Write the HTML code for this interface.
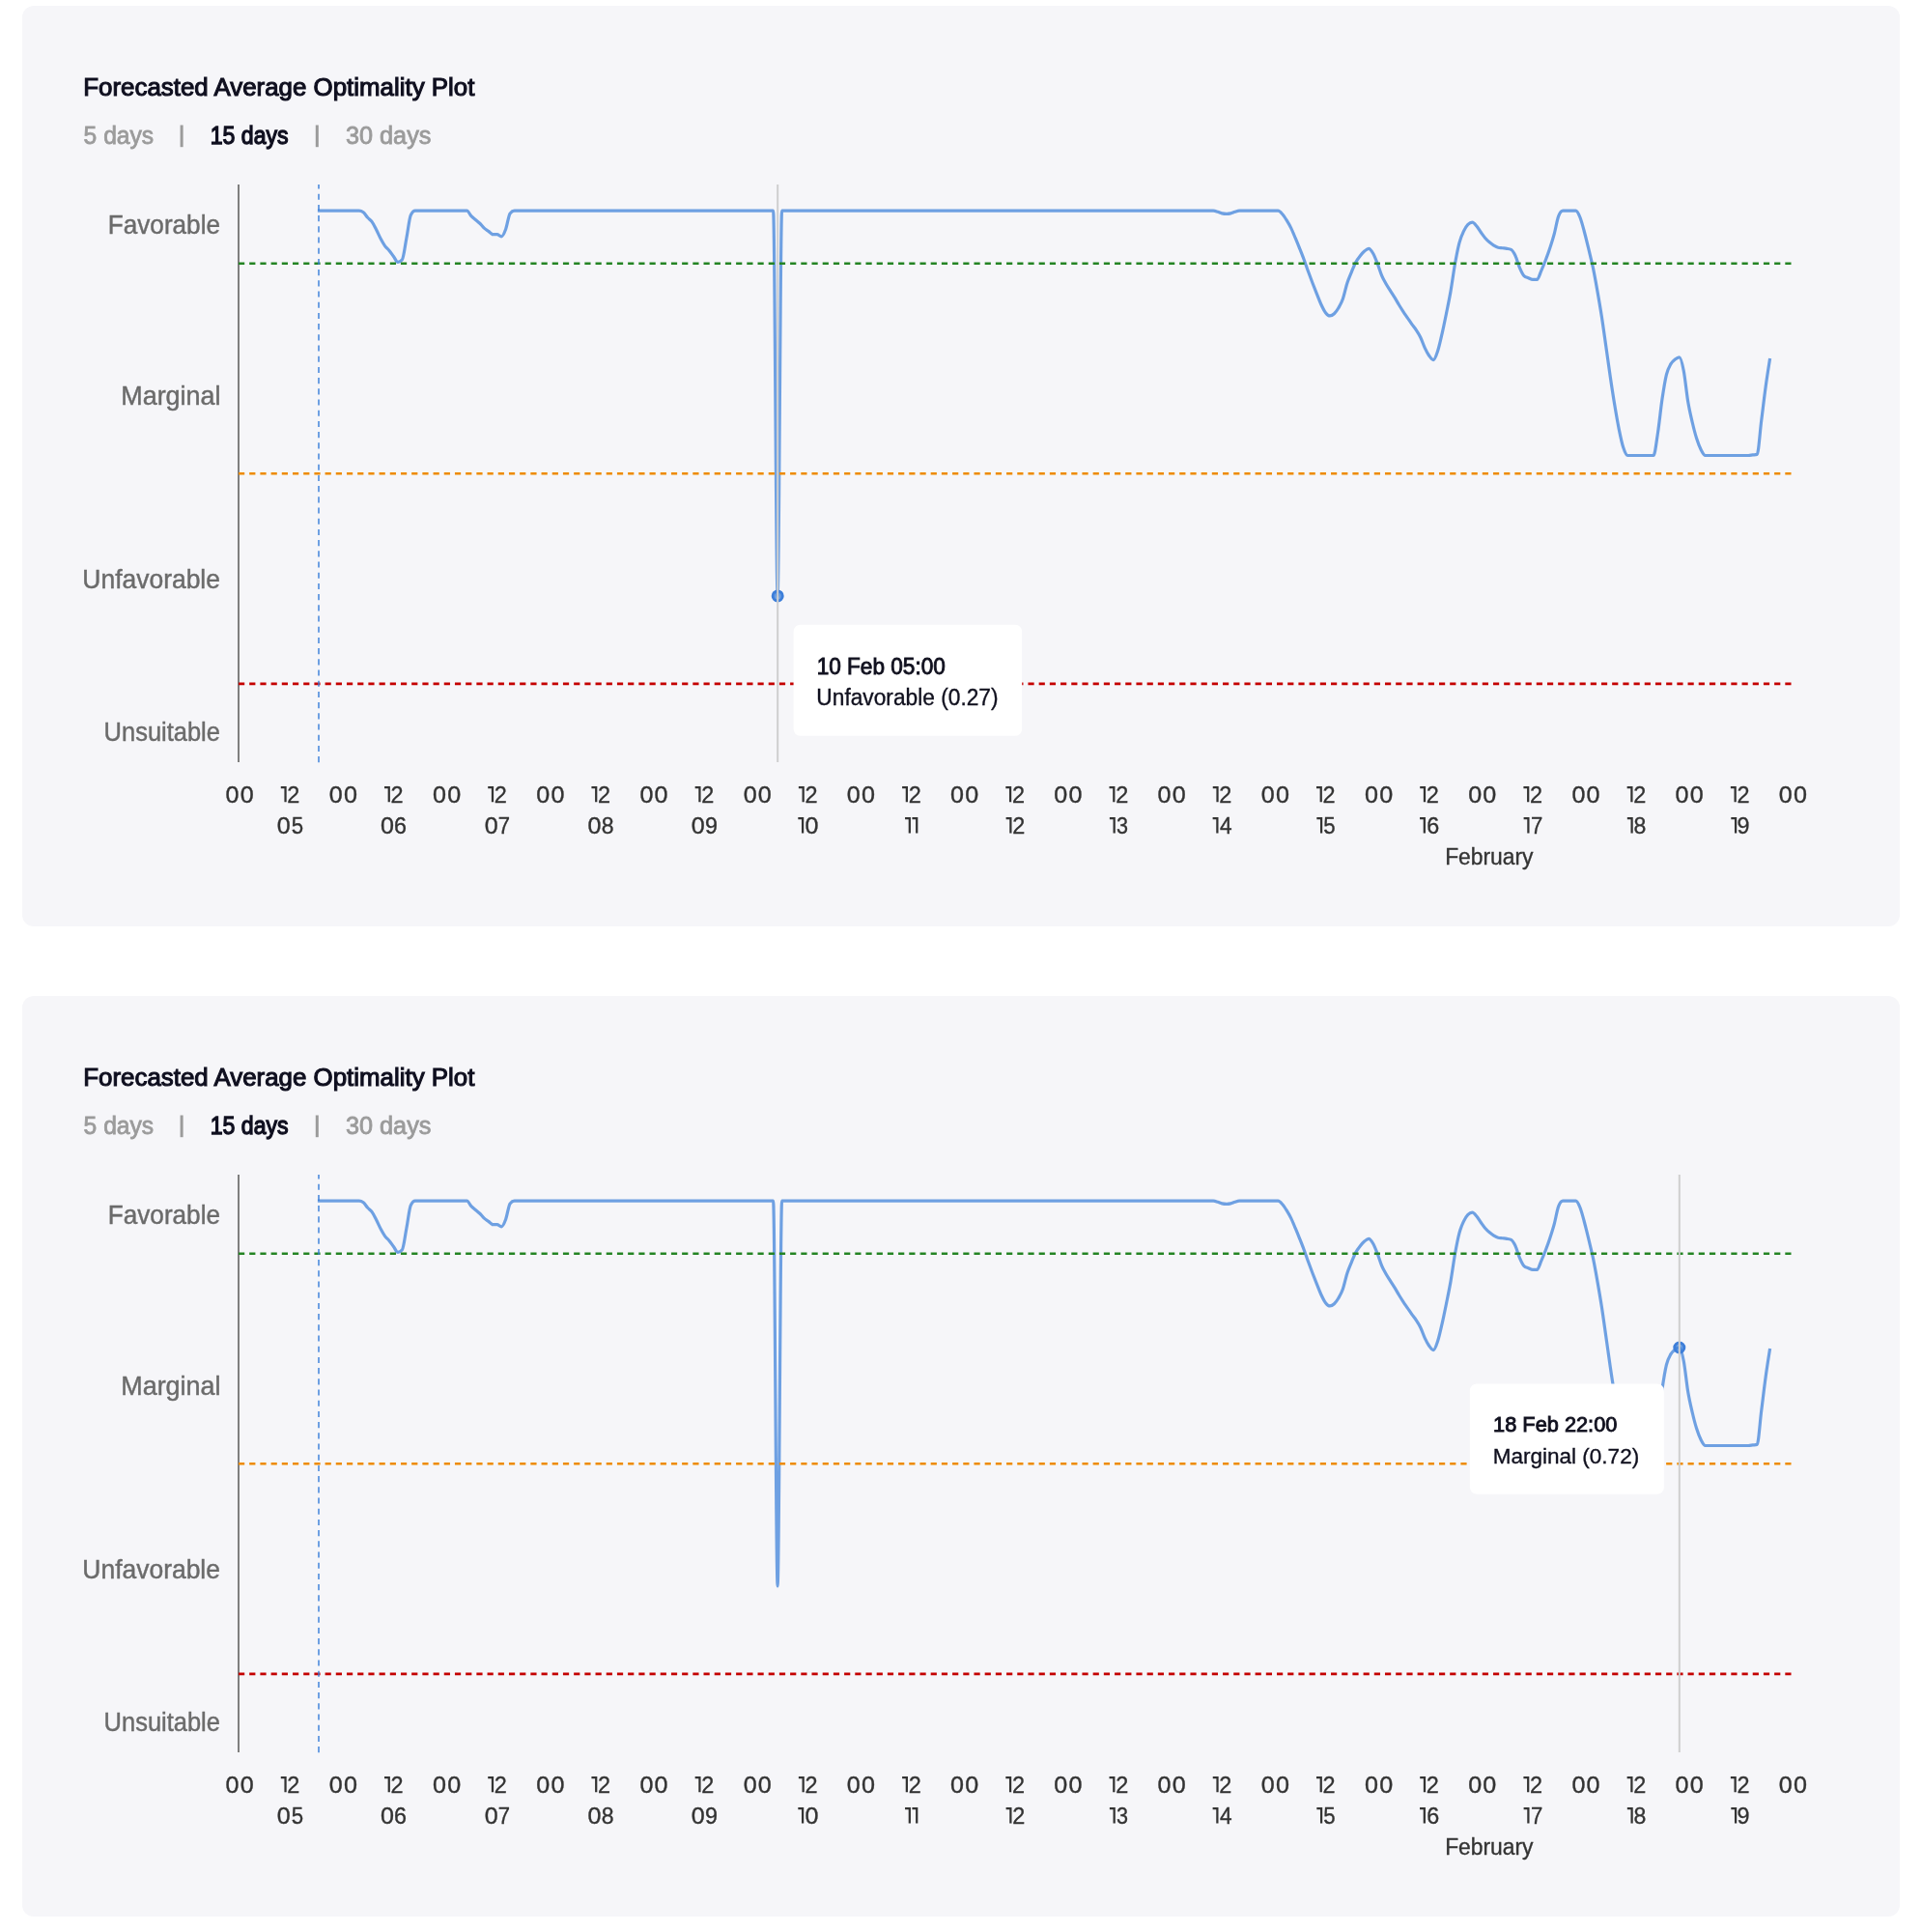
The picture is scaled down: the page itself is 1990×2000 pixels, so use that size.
<!DOCTYPE html>
<html><head><meta charset="utf-8"><style>
html,body{margin:0;padding:0;background:#ffffff;}
body{width:1990px;height:2000px;overflow:hidden;}
svg{display:block;font-family:"Liberation Sans",sans-serif;will-change:transform;}
</style></head><body>
<svg width="1990" height="2000" viewBox="0 0 1990 2000">
<g>
<rect x="23" y="6" width="1944" height="953" rx="12" ry="12" fill="#f6f6f9"/>
<text transform="translate(86.28,98.58) scale(0.9869,1)" font-size="26.23" fill="#0f0f1f" stroke="#0f0f1f" stroke-width="1.10">Forecasted Average Optimality Plot</text>
<text transform="translate(86.61,148.94) scale(0.9713,1)" font-size="25.36" fill="#9b9b9b" stroke="#9b9b9b" stroke-width="0.80">5 days</text>
<rect x="186.6" y="129.5" width="3" height="22.7" fill="#9b9b9b"/>
<text transform="translate(217.72,148.84) scale(0.9105,1)" font-size="25.36" fill="#0f0f1f" stroke="#0f0f1f" stroke-width="1.30">15 days</text>
<rect x="326.8" y="129.5" width="3" height="22.7" fill="#9b9b9b"/>
<text transform="translate(357.99,148.94) scale(0.9955,1)" font-size="25.36" fill="#9b9b9b" stroke="#9b9b9b" stroke-width="0.80">30 days</text>
<text transform="translate(111.84,241.71) scale(0.9639,1)" font-size="27.10" fill="#6b6b6b" stroke="#6b6b6b" stroke-width="0.45">Favorable</text>
<text transform="translate(125.27,418.71) scale(0.9935,1)" font-size="27.10" fill="#6b6b6b" stroke="#6b6b6b" stroke-width="0.45">Marginal</text>
<text transform="translate(85.34,608.61) scale(0.9764,1)" font-size="27.10" fill="#6b6b6b" stroke="#6b6b6b" stroke-width="0.45">Unfavorable</text>
<text transform="translate(107.62,766.91) scale(0.9395,1)" font-size="27.10" fill="#6b6b6b" stroke="#6b6b6b" stroke-width="0.45">Unsuitable</text>
<text transform="translate(233.53,830.73) scale(1.0715,1)" font-size="23.43" fill="#333333" stroke="#333333" stroke-width="0.35">0</text><text transform="translate(248.73,830.73) scale(1.0715,1)" font-size="23.43" fill="#333333" stroke="#333333" stroke-width="0.35">0</text>
<path d="M290.77,813.95 H296.67 V830.30 H294.42 V816.25 H290.77 Z" fill="#333333"/><text transform="translate(297.37,830.73) scale(0.9991,1)" font-size="23.43" fill="#333333" stroke="#333333" stroke-width="0.35">2</text>
<text transform="translate(286.64,863.03) scale(1.0737,1)" font-size="23.38" fill="#333333" stroke="#333333" stroke-width="0.35">0</text><text transform="translate(301.66,863.03) scale(0.9500,1)" font-size="23.38" fill="#333333" stroke="#333333" stroke-width="0.35">5</text>
<text transform="translate(340.75,830.73) scale(1.0715,1)" font-size="23.43" fill="#333333" stroke="#333333" stroke-width="0.35">0</text><text transform="translate(355.95,830.73) scale(1.0715,1)" font-size="23.43" fill="#333333" stroke="#333333" stroke-width="0.35">0</text>
<path d="M397.99,813.95 H403.89 V830.30 H401.64 V816.25 H397.99 Z" fill="#333333"/><text transform="translate(404.59,830.73) scale(0.9991,1)" font-size="23.43" fill="#333333" stroke="#333333" stroke-width="0.35">2</text>
<text transform="translate(394.11,863.03) scale(1.0737,1)" font-size="23.38" fill="#333333" stroke="#333333" stroke-width="0.35">0</text><text transform="translate(408.05,863.03) scale(0.9980,1)" font-size="23.38" fill="#333333" stroke="#333333" stroke-width="0.35">6</text>
<text transform="translate(447.97,830.73) scale(1.0715,1)" font-size="23.43" fill="#333333" stroke="#333333" stroke-width="0.35">0</text><text transform="translate(463.17,830.73) scale(1.0715,1)" font-size="23.43" fill="#333333" stroke="#333333" stroke-width="0.35">0</text>
<path d="M505.21,813.95 H511.11 V830.30 H508.86 V816.25 H505.21 Z" fill="#333333"/><text transform="translate(511.81,830.73) scale(0.9991,1)" font-size="23.43" fill="#333333" stroke="#333333" stroke-width="0.35">2</text>
<text transform="translate(501.78,863.03) scale(1.0737,1)" font-size="23.38" fill="#333333" stroke="#333333" stroke-width="0.35">0</text><text transform="translate(515.68,863.03) scale(0.9447,1)" font-size="23.38" fill="#333333" stroke="#333333" stroke-width="0.35">7</text>
<text transform="translate(555.19,830.73) scale(1.0715,1)" font-size="23.43" fill="#333333" stroke="#333333" stroke-width="0.35">0</text><text transform="translate(570.39,830.73) scale(1.0715,1)" font-size="23.43" fill="#333333" stroke="#333333" stroke-width="0.35">0</text>
<path d="M612.43,813.95 H618.33 V830.30 H616.08 V816.25 H612.43 Z" fill="#333333"/><text transform="translate(619.03,830.73) scale(0.9991,1)" font-size="23.43" fill="#333333" stroke="#333333" stroke-width="0.35">2</text>
<text transform="translate(608.45,863.03) scale(1.0737,1)" font-size="23.38" fill="#333333" stroke="#333333" stroke-width="0.35">0</text><text transform="translate(622.72,863.03) scale(0.9874,1)" font-size="23.38" fill="#333333" stroke="#333333" stroke-width="0.35">8</text>
<text transform="translate(662.41,830.73) scale(1.0715,1)" font-size="23.43" fill="#333333" stroke="#333333" stroke-width="0.35">0</text><text transform="translate(677.61,830.73) scale(1.0715,1)" font-size="23.43" fill="#333333" stroke="#333333" stroke-width="0.35">0</text>
<path d="M719.65,813.95 H725.55 V830.30 H723.30 V816.25 H719.65 Z" fill="#333333"/><text transform="translate(726.25,830.73) scale(0.9991,1)" font-size="23.43" fill="#333333" stroke="#333333" stroke-width="0.35">2</text>
<text transform="translate(715.67,863.03) scale(1.0737,1)" font-size="23.38" fill="#333333" stroke="#333333" stroke-width="0.35">0</text><text transform="translate(729.92,863.03) scale(0.9980,1)" font-size="23.38" fill="#333333" stroke="#333333" stroke-width="0.35">9</text>
<text transform="translate(769.63,830.73) scale(1.0715,1)" font-size="23.43" fill="#333333" stroke="#333333" stroke-width="0.35">0</text><text transform="translate(784.83,830.73) scale(1.0715,1)" font-size="23.43" fill="#333333" stroke="#333333" stroke-width="0.35">0</text>
<path d="M826.87,813.95 H832.77 V830.30 H830.52 V816.25 H826.87 Z" fill="#333333"/><text transform="translate(833.47,830.73) scale(0.9991,1)" font-size="23.43" fill="#333333" stroke="#333333" stroke-width="0.35">2</text>
<path d="M826.32,846.05 H832.22 V862.60 H829.97 V848.35 H826.32 Z" fill="#333333"/><text transform="translate(833.39,863.03) scale(1.0737,1)" font-size="23.38" fill="#333333" stroke="#333333" stroke-width="0.35">0</text>
<text transform="translate(876.85,830.73) scale(1.0715,1)" font-size="23.43" fill="#333333" stroke="#333333" stroke-width="0.35">0</text><text transform="translate(892.05,830.73) scale(1.0715,1)" font-size="23.43" fill="#333333" stroke="#333333" stroke-width="0.35">0</text>
<path d="M934.09,813.95 H939.99 V830.30 H937.74 V816.25 H934.09 Z" fill="#333333"/><text transform="translate(940.69,830.73) scale(0.9991,1)" font-size="23.43" fill="#333333" stroke="#333333" stroke-width="0.35">2</text>
<path d="M937.04,846.05 H942.94 V862.60 H940.69 V848.35 H937.04 Z" fill="#333333"/><path d="M944.44,846.05 H950.34 V862.60 H948.09 V848.35 H944.44 Z" fill="#333333"/>
<text transform="translate(984.07,830.73) scale(1.0715,1)" font-size="23.43" fill="#333333" stroke="#333333" stroke-width="0.35">0</text><text transform="translate(999.27,830.73) scale(1.0715,1)" font-size="23.43" fill="#333333" stroke="#333333" stroke-width="0.35">0</text>
<path d="M1041.31,813.95 H1047.21 V830.30 H1044.96 V816.25 H1041.31 Z" fill="#333333"/><text transform="translate(1047.91,830.73) scale(0.9991,1)" font-size="23.43" fill="#333333" stroke="#333333" stroke-width="0.35">2</text>
<path d="M1041.61,846.05 H1047.51 V862.60 H1045.26 V848.35 H1041.61 Z" fill="#333333"/><text transform="translate(1048.21,863.03) scale(1.0011,1)" font-size="23.38" fill="#333333" stroke="#333333" stroke-width="0.35">2</text>
<text transform="translate(1091.29,830.73) scale(1.0715,1)" font-size="23.43" fill="#333333" stroke="#333333" stroke-width="0.35">0</text><text transform="translate(1106.49,830.73) scale(1.0715,1)" font-size="23.43" fill="#333333" stroke="#333333" stroke-width="0.35">0</text>
<path d="M1148.53,813.95 H1154.43 V830.30 H1152.18 V816.25 H1148.53 Z" fill="#333333"/><text transform="translate(1155.13,830.73) scale(0.9991,1)" font-size="23.43" fill="#333333" stroke="#333333" stroke-width="0.35">2</text>
<path d="M1148.88,846.05 H1154.78 V862.60 H1152.53 V848.35 H1148.88 Z" fill="#333333"/><text transform="translate(1156.09,863.03) scale(0.9230,1)" font-size="23.38" fill="#333333" stroke="#333333" stroke-width="0.35">3</text>
<text transform="translate(1198.51,830.73) scale(1.0715,1)" font-size="23.43" fill="#333333" stroke="#333333" stroke-width="0.35">0</text><text transform="translate(1213.71,830.73) scale(1.0715,1)" font-size="23.43" fill="#333333" stroke="#333333" stroke-width="0.35">0</text>
<path d="M1255.75,813.95 H1261.65 V830.30 H1259.40 V816.25 H1255.75 Z" fill="#333333"/><text transform="translate(1262.35,830.73) scale(0.9991,1)" font-size="23.43" fill="#333333" stroke="#333333" stroke-width="0.35">2</text>
<path d="M1255.60,846.05 H1261.50 V862.60 H1259.25 V848.35 H1255.60 Z" fill="#333333"/><text transform="translate(1263.02,863.03) scale(0.9698,1)" font-size="23.38" fill="#333333" stroke="#333333" stroke-width="0.35">4</text>
<text transform="translate(1305.73,830.73) scale(1.0715,1)" font-size="23.43" fill="#333333" stroke="#333333" stroke-width="0.35">0</text><text transform="translate(1320.93,830.73) scale(1.0715,1)" font-size="23.43" fill="#333333" stroke="#333333" stroke-width="0.35">0</text>
<path d="M1362.97,813.95 H1368.87 V830.30 H1366.62 V816.25 H1362.97 Z" fill="#333333"/><text transform="translate(1369.57,830.73) scale(0.9991,1)" font-size="23.43" fill="#333333" stroke="#333333" stroke-width="0.35">2</text>
<path d="M1363.32,846.05 H1369.22 V862.60 H1366.97 V848.35 H1363.32 Z" fill="#333333"/><text transform="translate(1370.21,863.03) scale(0.9500,1)" font-size="23.38" fill="#333333" stroke="#333333" stroke-width="0.35">5</text>
<text transform="translate(1412.95,830.73) scale(1.0715,1)" font-size="23.43" fill="#333333" stroke="#333333" stroke-width="0.35">0</text><text transform="translate(1428.15,830.73) scale(1.0715,1)" font-size="23.43" fill="#333333" stroke="#333333" stroke-width="0.35">0</text>
<path d="M1470.19,813.95 H1476.09 V830.30 H1473.84 V816.25 H1470.19 Z" fill="#333333"/><text transform="translate(1476.79,830.73) scale(0.9991,1)" font-size="23.43" fill="#333333" stroke="#333333" stroke-width="0.35">2</text>
<path d="M1470.04,846.05 H1475.94 V862.60 H1473.69 V848.35 H1470.04 Z" fill="#333333"/><text transform="translate(1477.35,863.03) scale(0.9980,1)" font-size="23.38" fill="#333333" stroke="#333333" stroke-width="0.35">6</text>
<text transform="translate(1520.17,830.73) scale(1.0715,1)" font-size="23.43" fill="#333333" stroke="#333333" stroke-width="0.35">0</text><text transform="translate(1535.37,830.73) scale(1.0715,1)" font-size="23.43" fill="#333333" stroke="#333333" stroke-width="0.35">0</text>
<path d="M1577.41,813.95 H1583.31 V830.30 H1581.06 V816.25 H1577.41 Z" fill="#333333"/><text transform="translate(1584.01,830.73) scale(0.9991,1)" font-size="23.43" fill="#333333" stroke="#333333" stroke-width="0.35">2</text>
<path d="M1577.61,846.05 H1583.51 V862.60 H1581.26 V848.35 H1577.61 Z" fill="#333333"/><text transform="translate(1585.08,863.03) scale(0.9447,1)" font-size="23.38" fill="#333333" stroke="#333333" stroke-width="0.35">7</text>
<text transform="translate(1627.39,830.73) scale(1.0715,1)" font-size="23.43" fill="#333333" stroke="#333333" stroke-width="0.35">0</text><text transform="translate(1642.59,830.73) scale(1.0715,1)" font-size="23.43" fill="#333333" stroke="#333333" stroke-width="0.35">0</text>
<path d="M1684.63,813.95 H1690.53 V830.30 H1688.28 V816.25 H1684.63 Z" fill="#333333"/><text transform="translate(1691.23,830.73) scale(0.9991,1)" font-size="23.43" fill="#333333" stroke="#333333" stroke-width="0.35">2</text>
<path d="M1684.83,846.05 H1690.73 V862.60 H1688.48 V848.35 H1684.83 Z" fill="#333333"/><text transform="translate(1691.57,863.03) scale(0.9874,1)" font-size="23.38" fill="#333333" stroke="#333333" stroke-width="0.35">8</text>
<text transform="translate(1734.61,830.73) scale(1.0715,1)" font-size="23.43" fill="#333333" stroke="#333333" stroke-width="0.35">0</text><text transform="translate(1749.81,830.73) scale(1.0715,1)" font-size="23.43" fill="#333333" stroke="#333333" stroke-width="0.35">0</text>
<path d="M1791.85,813.95 H1797.75 V830.30 H1795.50 V816.25 H1791.85 Z" fill="#333333"/><text transform="translate(1798.45,830.73) scale(0.9991,1)" font-size="23.43" fill="#333333" stroke="#333333" stroke-width="0.35">2</text>
<path d="M1792.30,846.05 H1798.20 V862.60 H1795.95 V848.35 H1792.30 Z" fill="#333333"/><text transform="translate(1798.52,863.03) scale(0.9980,1)" font-size="23.38" fill="#333333" stroke="#333333" stroke-width="0.35">9</text>
<text transform="translate(1841.83,830.73) scale(1.0715,1)" font-size="23.43" fill="#333333" stroke="#333333" stroke-width="0.35">0</text><text transform="translate(1857.03,830.73) scale(1.0715,1)" font-size="23.43" fill="#333333" stroke="#333333" stroke-width="0.35">0</text>
<text transform="translate(1496.15,894.53) scale(0.9670,1)" font-size="23.62" fill="#333333" stroke="#333333" stroke-width="0.35">February</text>
<line x1="247" y1="191" x2="247" y2="789" stroke="#7f7f7f" stroke-width="2"/>
<path d="M328.90,218.18C329.78,218.18 330.66,218.18 331.54,218.18C333.03,218.18 334.52,218.18 336.01,218.18C337.50,218.18 338.99,218.18 340.48,218.18C341.97,218.18 343.46,218.18 344.94,218.18C346.43,218.18 347.92,218.18 349.41,218.18C350.90,218.18 352.39,218.18 353.88,218.18C355.37,218.18 356.86,218.18 358.35,218.18C359.84,218.18 361.33,218.18 362.81,218.18C364.30,218.18 365.79,218.18 367.28,218.18C368.77,218.18 370.26,218.18 371.75,218.18C373.24,218.18 374.73,218.72 376.22,219.81C377.71,220.90 379.20,223.62 380.69,225.25C382.17,226.88 383.66,227.51 385.15,229.60C386.64,231.68 388.13,234.85 389.62,237.75C391.11,240.65 392.60,244.18 394.09,246.99C395.58,249.80 397.07,252.52 398.56,254.60C400.04,256.69 401.53,257.68 403.02,259.49C404.51,261.31 406.00,263.48 407.49,265.47C408.98,267.47 410.47,271.45 411.96,271.45C413.45,271.45 414.94,270.55 416.43,268.73C417.91,266.92 419.40,254.15 420.89,246.45C422.38,238.75 423.87,225.43 425.36,222.53C426.85,219.63 428.34,218.18 429.83,218.18C431.32,218.18 432.81,218.18 434.30,218.18C435.78,218.18 437.27,218.18 438.76,218.18C440.25,218.18 441.74,218.18 443.23,218.18C444.72,218.18 446.21,218.18 447.70,218.18C449.19,218.18 450.68,218.18 452.17,218.18C453.65,218.18 455.14,218.18 456.63,218.18C458.12,218.18 459.61,218.18 461.10,218.18C462.59,218.18 464.08,218.18 465.57,218.18C467.06,218.18 468.55,218.18 470.03,218.18C471.52,218.18 473.01,218.18 474.50,218.18C475.99,218.18 477.48,218.18 478.97,218.18C480.46,218.18 481.95,218.18 483.44,218.18C484.93,218.18 486.42,222.08 487.90,223.62C489.39,225.16 490.88,226.15 492.37,227.42C493.86,228.69 495.35,229.78 496.84,231.23C498.33,232.68 499.82,234.76 501.31,236.12C502.80,237.48 504.29,238.29 505.77,239.38C507.26,240.47 508.75,242.64 510.24,242.64C511.73,242.64 513.22,242.64 514.71,242.64C516.20,242.64 517.69,244.82 519.18,244.82C520.67,244.82 522.16,241.19 523.64,237.21C525.13,233.22 526.62,222.71 528.11,220.90C529.60,219.09 531.09,218.18 532.58,218.18C534.07,218.18 535.56,218.18 537.05,218.18C538.54,218.18 540.03,218.18 541.51,218.18C543.00,218.18 544.49,218.18 545.98,218.18C547.47,218.18 548.96,218.18 550.45,218.18C551.94,218.18 553.43,218.18 554.92,218.18C556.41,218.18 557.90,218.18 559.38,218.18C560.87,218.18 562.36,218.18 563.85,218.18C565.34,218.18 566.83,218.18 568.32,218.18C569.81,218.18 571.30,218.18 572.79,218.18C574.28,218.18 575.77,218.18 577.25,218.18C578.74,218.18 580.23,218.18 581.72,218.18C583.21,218.18 584.70,218.18 586.19,218.18C587.68,218.18 589.17,218.18 590.66,218.18C592.15,218.18 593.64,218.18 595.12,218.18C596.61,218.18 598.10,218.18 599.59,218.18C601.08,218.18 602.57,218.18 604.06,218.18C605.55,218.18 607.04,218.18 608.53,218.18C610.02,218.18 611.51,218.18 613.00,218.18C614.48,218.18 615.97,218.18 617.46,218.18C618.95,218.18 620.44,218.18 621.93,218.18C623.42,218.18 624.91,218.18 626.40,218.18C627.89,218.18 629.38,218.18 630.87,218.18C632.35,218.18 633.84,218.18 635.33,218.18C636.82,218.18 638.31,218.18 639.80,218.18C641.29,218.18 642.78,218.18 644.27,218.18C645.76,218.18 647.25,218.18 648.74,218.18C650.22,218.18 651.71,218.18 653.20,218.18C654.69,218.18 656.18,218.18 657.67,218.18C659.16,218.18 660.65,218.18 662.14,218.18C663.63,218.18 665.12,218.18 666.61,218.18C668.09,218.18 669.58,218.18 671.07,218.18C672.56,218.18 674.05,218.18 675.54,218.18C677.03,218.18 678.52,218.18 680.01,218.18C681.50,218.18 682.99,218.18 684.48,218.18C685.96,218.18 687.45,218.18 688.94,218.18C690.43,218.18 691.92,218.18 693.41,218.18C694.90,218.18 696.39,218.18 697.88,218.18C699.37,218.18 700.86,218.18 702.35,218.18C703.83,218.18 705.32,218.18 706.81,218.18C708.30,218.18 709.79,218.18 711.28,218.18C712.77,218.18 714.26,218.18 715.75,218.18C717.24,218.18 718.73,218.18 720.22,218.18C721.70,218.18 723.19,218.18 724.68,218.18C726.17,218.18 727.66,218.18 729.15,218.18C730.64,218.18 732.13,218.18 733.62,218.18C735.11,218.18 736.60,218.18 738.09,218.18C739.57,218.18 741.06,218.18 742.55,218.18C744.04,218.18 745.53,218.18 747.02,218.18C748.51,218.18 750.00,218.18 751.49,218.18C752.98,218.18 754.47,218.18 755.96,218.18C757.44,218.18 758.93,218.18 760.42,218.18C761.91,218.18 763.40,218.18 764.89,218.18C766.38,218.18 767.87,218.18 769.36,218.18C770.85,218.18 772.34,218.18 773.83,218.18C775.31,218.18 776.80,218.18 778.29,218.18C779.78,218.18 781.27,218.18 782.76,218.18C784.25,218.18 785.74,218.18 787.23,218.18C788.72,218.18 790.21,218.18 791.70,218.18C793.18,218.18 794.67,218.18 796.16,218.18C797.65,218.18 799.14,218.18 800.63,218.18C802.12,218.18 803.61,616.91 805.10,616.91C806.59,616.91 808.08,218.18 809.57,218.18C811.05,218.18 812.54,218.18 814.03,218.18C815.52,218.18 817.01,218.18 818.50,218.18C819.99,218.18 821.48,218.18 822.97,218.18C824.46,218.18 825.95,218.18 827.43,218.18C828.92,218.18 830.41,218.18 831.90,218.18C833.39,218.18 834.88,218.18 836.37,218.18C837.86,218.18 839.35,218.18 840.84,218.18C842.33,218.18 843.82,218.18 845.30,218.18C846.79,218.18 848.28,218.18 849.77,218.18C851.26,218.18 852.75,218.18 854.24,218.18C855.73,218.18 857.22,218.18 858.71,218.18C860.20,218.18 861.69,218.18 863.17,218.18C864.66,218.18 866.15,218.18 867.64,218.18C869.13,218.18 870.62,218.18 872.11,218.18C873.60,218.18 875.09,218.18 876.58,218.18C878.07,218.18 879.56,218.18 881.04,218.18C882.53,218.18 884.02,218.18 885.51,218.18C887.00,218.18 888.49,218.18 889.98,218.18C891.47,218.18 892.96,218.18 894.45,218.18C895.94,218.18 897.43,218.18 898.91,218.18C900.40,218.18 901.89,218.18 903.38,218.18C904.87,218.18 906.36,218.18 907.85,218.18C909.34,218.18 910.83,218.18 912.32,218.18C913.81,218.18 915.30,218.18 916.78,218.18C918.27,218.18 919.76,218.18 921.25,218.18C922.74,218.18 924.23,218.18 925.72,218.18C927.21,218.18 928.70,218.18 930.19,218.18C931.68,218.18 933.17,218.18 934.65,218.18C936.14,218.18 937.63,218.18 939.12,218.18C940.61,218.18 942.10,218.18 943.59,218.18C945.08,218.18 946.57,218.18 948.06,218.18C949.55,218.18 951.04,218.18 952.52,218.18C954.01,218.18 955.50,218.18 956.99,218.18C958.48,218.18 959.97,218.18 961.46,218.18C962.95,218.18 964.44,218.18 965.93,218.18C967.42,218.18 968.91,218.18 970.39,218.18C971.88,218.18 973.37,218.18 974.86,218.18C976.35,218.18 977.84,218.18 979.33,218.18C980.82,218.18 982.31,218.18 983.80,218.18C985.29,218.18 986.78,218.18 988.26,218.18C989.75,218.18 991.24,218.18 992.73,218.18C994.22,218.18 995.71,218.18 997.20,218.18C998.69,218.18 1000.18,218.18 1001.67,218.18C1003.16,218.18 1004.65,218.18 1006.13,218.18C1007.62,218.18 1009.11,218.18 1010.60,218.18C1012.09,218.18 1013.58,218.18 1015.07,218.18C1016.56,218.18 1018.05,218.18 1019.54,218.18C1021.03,218.18 1022.52,218.18 1024.01,218.18C1025.49,218.18 1026.98,218.18 1028.47,218.18C1029.96,218.18 1031.45,218.18 1032.94,218.18C1034.43,218.18 1035.92,218.18 1037.41,218.18C1038.90,218.18 1040.39,218.18 1041.88,218.18C1043.36,218.18 1044.85,218.18 1046.34,218.18C1047.83,218.18 1049.32,218.18 1050.81,218.18C1052.30,218.18 1053.79,218.18 1055.28,218.18C1056.77,218.18 1058.26,218.18 1059.75,218.18C1061.23,218.18 1062.72,218.18 1064.21,218.18C1065.70,218.18 1067.19,218.18 1068.68,218.18C1070.17,218.18 1071.66,218.18 1073.15,218.18C1074.64,218.18 1076.13,218.18 1077.62,218.18C1079.10,218.18 1080.59,218.18 1082.08,218.18C1083.57,218.18 1085.06,218.18 1086.55,218.18C1088.04,218.18 1089.53,218.18 1091.02,218.18C1092.51,218.18 1094.00,218.18 1095.49,218.18C1096.97,218.18 1098.46,218.18 1099.95,218.18C1101.44,218.18 1102.93,218.18 1104.42,218.18C1105.91,218.18 1107.40,218.18 1108.89,218.18C1110.38,218.18 1111.87,218.18 1113.36,218.18C1114.84,218.18 1116.33,218.18 1117.82,218.18C1119.31,218.18 1120.80,218.18 1122.29,218.18C1123.78,218.18 1125.27,218.18 1126.76,218.18C1128.25,218.18 1129.74,218.18 1131.23,218.18C1132.71,218.18 1134.20,218.18 1135.69,218.18C1137.18,218.18 1138.67,218.18 1140.16,218.18C1141.65,218.18 1143.14,218.18 1144.63,218.18C1146.12,218.18 1147.61,218.18 1149.10,218.18C1150.58,218.18 1152.07,218.18 1153.56,218.18C1155.05,218.18 1156.54,218.18 1158.03,218.18C1159.52,218.18 1161.01,218.18 1162.50,218.18C1163.99,218.18 1165.48,218.18 1166.97,218.18C1168.45,218.18 1169.94,218.18 1171.43,218.18C1172.92,218.18 1174.41,218.18 1175.90,218.18C1177.39,218.18 1178.88,218.18 1180.37,218.18C1181.86,218.18 1183.35,218.18 1184.84,218.18C1186.32,218.18 1187.81,218.18 1189.30,218.18C1190.79,218.18 1192.28,218.18 1193.77,218.18C1195.26,218.18 1196.75,218.18 1198.24,218.18C1199.73,218.18 1201.22,218.18 1202.71,218.18C1204.19,218.18 1205.68,218.18 1207.17,218.18C1208.66,218.18 1210.15,218.18 1211.64,218.18C1213.13,218.18 1214.62,218.18 1216.11,218.18C1217.60,218.18 1219.09,218.18 1220.58,218.18C1222.06,218.18 1223.55,218.18 1225.04,218.18C1226.53,218.18 1228.02,218.18 1229.51,218.18C1231.00,218.18 1232.49,218.18 1233.98,218.18C1235.47,218.18 1236.96,218.18 1238.45,218.18C1239.93,218.18 1241.42,218.18 1242.91,218.18C1244.40,218.18 1245.89,218.18 1247.38,218.18C1248.87,218.18 1250.36,218.18 1251.85,218.18C1253.34,218.18 1254.83,218.18 1256.32,218.18C1257.80,218.18 1259.29,218.81 1260.78,219.27C1262.27,219.72 1263.76,220.54 1265.25,220.90C1266.74,221.26 1268.23,221.44 1269.72,221.44C1271.21,221.44 1272.70,221.26 1274.19,220.90C1275.67,220.54 1277.16,219.72 1278.65,219.27C1280.14,218.81 1281.63,218.18 1283.12,218.18C1284.61,218.18 1286.10,218.18 1287.59,218.18C1289.08,218.18 1290.57,218.18 1292.06,218.18C1293.54,218.18 1295.03,218.18 1296.52,218.18C1298.01,218.18 1299.50,218.18 1300.99,218.18C1302.48,218.18 1303.97,218.18 1305.46,218.18C1306.95,218.18 1308.44,218.18 1309.93,218.18C1311.41,218.18 1312.90,218.18 1314.39,218.18C1315.88,218.18 1317.37,218.18 1318.86,218.18C1320.35,218.18 1321.84,218.18 1323.33,218.18C1324.82,218.18 1326.31,220.05 1327.80,221.71C1329.28,223.38 1330.77,225.78 1332.26,228.18C1333.75,230.58 1335.24,233.07 1336.73,236.12C1338.22,239.16 1339.71,242.91 1341.20,246.45C1342.69,249.98 1344.18,253.60 1345.67,257.32C1347.15,261.03 1348.64,264.75 1350.13,268.73C1351.62,272.72 1353.11,277.16 1354.60,281.24C1356.09,285.31 1357.58,289.30 1359.07,293.20C1360.56,297.09 1362.05,300.90 1363.54,304.61C1365.02,308.33 1366.51,312.31 1368.00,315.48C1369.49,318.66 1370.98,321.74 1372.47,323.64C1373.96,325.54 1375.45,326.90 1376.94,326.90C1378.43,326.90 1379.92,326.08 1381.41,324.73C1382.89,323.37 1384.38,321.28 1385.87,318.75C1387.36,316.21 1388.85,313.76 1390.34,309.50C1391.83,305.25 1393.32,297.82 1394.81,293.20C1396.30,288.58 1397.79,285.41 1399.28,281.78C1400.76,278.16 1402.25,274.26 1403.74,271.45C1405.23,268.64 1406.72,266.83 1408.21,264.93C1409.70,263.03 1411.19,261.31 1412.68,260.04C1414.17,258.77 1415.66,257.32 1417.15,257.32C1418.63,257.32 1420.12,259.67 1421.61,262.21C1423.10,264.75 1424.59,268.73 1426.08,272.54C1427.57,276.35 1429.06,281.51 1430.55,285.04C1432.04,288.58 1433.53,291.11 1435.02,293.74C1436.50,296.37 1437.99,298.45 1439.48,300.81C1440.97,303.16 1442.46,305.43 1443.95,307.87C1445.44,310.32 1446.93,313.04 1448.42,315.48C1449.91,317.93 1451.40,320.29 1452.89,322.55C1454.37,324.82 1455.86,326.90 1457.35,329.07C1458.84,331.25 1460.33,333.51 1461.82,335.60C1463.31,337.68 1464.80,339.31 1466.29,341.58C1467.78,343.84 1469.27,346.11 1470.76,349.19C1472.24,352.27 1473.73,356.89 1475.22,360.06C1476.71,363.23 1478.20,366.13 1479.69,368.21C1481.18,370.30 1482.67,372.56 1484.16,372.56C1485.65,372.56 1487.14,367.85 1488.63,363.32C1490.11,358.79 1491.60,351.91 1493.09,345.38C1494.58,338.86 1496.07,331.52 1497.56,324.18C1499.05,316.84 1500.54,309.87 1502.03,301.35C1503.52,292.83 1505.01,281.42 1506.50,273.08C1507.98,264.75 1509.47,256.96 1510.96,251.34C1512.45,245.72 1513.94,242.55 1515.43,239.38C1516.92,236.21 1518.41,233.76 1519.90,232.31C1521.39,230.86 1522.88,230.14 1524.37,230.14C1525.85,230.14 1527.34,232.22 1528.83,233.94C1530.32,235.67 1531.81,238.38 1533.30,240.47C1534.79,242.55 1536.28,244.73 1537.77,246.45C1539.26,248.17 1540.75,249.53 1542.24,250.80C1543.72,252.06 1545.21,253.15 1546.70,254.06C1548.19,254.96 1549.68,255.87 1551.17,256.23C1552.66,256.59 1554.15,256.59 1555.64,256.78C1557.13,256.96 1558.62,257.05 1560.11,257.32C1561.59,257.59 1563.08,257.68 1564.57,258.41C1566.06,259.13 1567.55,261.76 1569.04,264.93C1570.53,268.10 1572.02,273.99 1573.51,277.43C1575.00,280.88 1576.49,284.14 1577.98,285.59C1579.46,287.04 1580.95,287.13 1582.44,287.76C1583.93,288.40 1585.42,289.39 1586.91,289.39C1588.40,289.39 1589.89,289.39 1591.38,289.39C1592.87,289.39 1594.36,283.50 1595.85,280.15C1597.33,276.80 1598.82,273.17 1600.31,269.28C1601.80,265.38 1603.29,261.31 1604.78,256.78C1606.27,252.25 1607.76,247.63 1609.25,242.10C1610.74,236.57 1612.23,227.24 1613.72,223.62C1615.20,219.99 1616.69,218.18 1618.18,218.18C1619.67,218.18 1621.16,218.18 1622.65,218.18C1624.14,218.18 1625.63,218.18 1627.12,218.18C1628.61,218.18 1630.10,218.18 1631.59,218.18C1633.07,218.18 1634.56,221.53 1636.05,225.25C1637.54,228.96 1639.03,234.94 1640.52,240.47C1642.01,245.99 1643.50,252.25 1644.99,258.41C1646.48,264.57 1647.97,270.28 1649.46,277.43C1650.94,284.59 1652.43,292.93 1653.92,301.35C1655.41,309.78 1656.90,318.38 1658.39,327.99C1659.88,337.59 1661.37,348.55 1662.86,358.97C1664.35,369.39 1665.84,380.44 1667.33,390.50C1668.81,400.56 1670.30,410.34 1671.79,419.31C1673.28,428.28 1674.77,436.98 1676.26,444.32C1677.75,451.66 1679.24,458.81 1680.73,463.34C1682.22,467.87 1683.71,471.50 1685.20,471.50C1686.68,471.50 1688.17,471.50 1689.66,471.50C1691.15,471.50 1692.64,471.50 1694.13,471.50C1695.62,471.50 1697.11,471.50 1698.60,471.50C1700.09,471.50 1701.58,471.50 1703.07,471.50C1704.55,471.50 1706.04,471.50 1707.53,471.50C1709.02,471.50 1710.51,471.50 1712.00,471.50C1713.49,471.50 1714.98,457.82 1716.47,448.12C1717.96,438.43 1719.45,423.39 1720.94,413.33C1722.42,403.28 1723.91,393.85 1725.40,387.78C1726.89,381.71 1728.38,379.54 1729.87,376.91C1731.36,374.28 1732.85,373.20 1734.34,372.02C1735.83,370.84 1737.32,369.84 1738.81,369.84C1740.29,369.84 1741.78,376.28 1743.27,383.98C1744.76,391.68 1746.25,407.17 1747.74,416.05C1749.23,424.93 1750.72,430.91 1752.21,437.25C1753.70,443.59 1755.19,449.39 1756.68,454.10C1758.16,458.81 1759.65,462.62 1761.14,465.52C1762.63,468.42 1764.12,471.50 1765.61,471.50C1767.10,471.50 1768.59,471.50 1770.08,471.50C1771.57,471.50 1773.06,471.50 1774.55,471.50C1776.03,471.50 1777.52,471.50 1779.01,471.50C1780.50,471.50 1781.99,471.50 1783.48,471.50C1784.97,471.50 1786.46,471.50 1787.95,471.50C1789.44,471.50 1790.93,471.50 1792.42,471.50C1793.90,471.50 1795.39,471.50 1796.88,471.50C1798.37,471.50 1799.86,471.50 1801.35,471.50C1802.84,471.50 1804.33,471.50 1805.82,471.50C1807.31,471.50 1808.80,471.50 1810.29,471.50C1811.77,471.50 1813.26,471.14 1814.75,470.95C1816.24,470.77 1817.73,470.77 1819.22,470.41C1820.71,470.05 1822.20,447.31 1823.69,435.62C1825.18,423.93 1826.67,411.07 1828.16,400.29C1829.64,389.50 1831.13,380.22 1832.62,370.93" fill="none" stroke="rgba(52,124,216,0.7)" stroke-width="3.2" stroke-linejoin="round"/>
<line x1="247" y1="272.75" x2="1855" y2="272.75" stroke="#248424" stroke-width="2.6" stroke-dasharray="6.2 4.998"/>
<line x1="247" y1="490.20" x2="1855" y2="490.20" stroke="#ee8b00" stroke-width="2.6" stroke-dasharray="6.2 4.998"/>
<line x1="247" y1="707.90" x2="1855" y2="707.90" stroke="#c40000" stroke-width="2.6" stroke-dasharray="6.2 4.998"/>
<line x1="330" y1="789.2" x2="330" y2="191" stroke="rgba(52,124,216,0.7)" stroke-width="2" stroke-dasharray="6.1 5.1"/>
<circle cx="805.2" cy="616.9" r="5" fill="rgba(52,124,216,0.7)" stroke="#3d7ed9" stroke-width="3"/>
<line x1="805.2" y1="191" x2="805.2" y2="789" stroke="#cfcfcf" stroke-width="2"/>
<rect x="821.6" y="646.8" width="236.6" height="115.0" rx="7" ry="7" fill="#ffffff"/>
<text transform="translate(845.66,697.72) scale(0.9564,1)" font-size="23.62" fill="#10101e" stroke="#10101e" stroke-width="0.90">10 Feb 05:00</text>
<text transform="translate(845.37,729.63) scale(0.9803,1)" font-size="23.19" fill="#10101e" stroke="#10101e" stroke-width="0.35">Unfavorable (0.27)</text>
</g>
<g transform="translate(0,1025)">
<rect x="23" y="6" width="1944" height="953" rx="12" ry="12" fill="#f6f6f9"/>
<text transform="translate(86.28,98.58) scale(0.9869,1)" font-size="26.23" fill="#0f0f1f" stroke="#0f0f1f" stroke-width="1.10">Forecasted Average Optimality Plot</text>
<text transform="translate(86.61,148.94) scale(0.9713,1)" font-size="25.36" fill="#9b9b9b" stroke="#9b9b9b" stroke-width="0.80">5 days</text>
<rect x="186.6" y="129.5" width="3" height="22.7" fill="#9b9b9b"/>
<text transform="translate(217.72,148.84) scale(0.9105,1)" font-size="25.36" fill="#0f0f1f" stroke="#0f0f1f" stroke-width="1.30">15 days</text>
<rect x="326.8" y="129.5" width="3" height="22.7" fill="#9b9b9b"/>
<text transform="translate(357.99,148.94) scale(0.9955,1)" font-size="25.36" fill="#9b9b9b" stroke="#9b9b9b" stroke-width="0.80">30 days</text>
<text transform="translate(111.84,241.71) scale(0.9639,1)" font-size="27.10" fill="#6b6b6b" stroke="#6b6b6b" stroke-width="0.45">Favorable</text>
<text transform="translate(125.27,418.71) scale(0.9935,1)" font-size="27.10" fill="#6b6b6b" stroke="#6b6b6b" stroke-width="0.45">Marginal</text>
<text transform="translate(85.34,608.61) scale(0.9764,1)" font-size="27.10" fill="#6b6b6b" stroke="#6b6b6b" stroke-width="0.45">Unfavorable</text>
<text transform="translate(107.62,766.91) scale(0.9395,1)" font-size="27.10" fill="#6b6b6b" stroke="#6b6b6b" stroke-width="0.45">Unsuitable</text>
<text transform="translate(233.53,830.73) scale(1.0715,1)" font-size="23.43" fill="#333333" stroke="#333333" stroke-width="0.35">0</text><text transform="translate(248.73,830.73) scale(1.0715,1)" font-size="23.43" fill="#333333" stroke="#333333" stroke-width="0.35">0</text>
<path d="M290.77,813.95 H296.67 V830.30 H294.42 V816.25 H290.77 Z" fill="#333333"/><text transform="translate(297.37,830.73) scale(0.9991,1)" font-size="23.43" fill="#333333" stroke="#333333" stroke-width="0.35">2</text>
<text transform="translate(286.64,863.03) scale(1.0737,1)" font-size="23.38" fill="#333333" stroke="#333333" stroke-width="0.35">0</text><text transform="translate(301.66,863.03) scale(0.9500,1)" font-size="23.38" fill="#333333" stroke="#333333" stroke-width="0.35">5</text>
<text transform="translate(340.75,830.73) scale(1.0715,1)" font-size="23.43" fill="#333333" stroke="#333333" stroke-width="0.35">0</text><text transform="translate(355.95,830.73) scale(1.0715,1)" font-size="23.43" fill="#333333" stroke="#333333" stroke-width="0.35">0</text>
<path d="M397.99,813.95 H403.89 V830.30 H401.64 V816.25 H397.99 Z" fill="#333333"/><text transform="translate(404.59,830.73) scale(0.9991,1)" font-size="23.43" fill="#333333" stroke="#333333" stroke-width="0.35">2</text>
<text transform="translate(394.11,863.03) scale(1.0737,1)" font-size="23.38" fill="#333333" stroke="#333333" stroke-width="0.35">0</text><text transform="translate(408.05,863.03) scale(0.9980,1)" font-size="23.38" fill="#333333" stroke="#333333" stroke-width="0.35">6</text>
<text transform="translate(447.97,830.73) scale(1.0715,1)" font-size="23.43" fill="#333333" stroke="#333333" stroke-width="0.35">0</text><text transform="translate(463.17,830.73) scale(1.0715,1)" font-size="23.43" fill="#333333" stroke="#333333" stroke-width="0.35">0</text>
<path d="M505.21,813.95 H511.11 V830.30 H508.86 V816.25 H505.21 Z" fill="#333333"/><text transform="translate(511.81,830.73) scale(0.9991,1)" font-size="23.43" fill="#333333" stroke="#333333" stroke-width="0.35">2</text>
<text transform="translate(501.78,863.03) scale(1.0737,1)" font-size="23.38" fill="#333333" stroke="#333333" stroke-width="0.35">0</text><text transform="translate(515.68,863.03) scale(0.9447,1)" font-size="23.38" fill="#333333" stroke="#333333" stroke-width="0.35">7</text>
<text transform="translate(555.19,830.73) scale(1.0715,1)" font-size="23.43" fill="#333333" stroke="#333333" stroke-width="0.35">0</text><text transform="translate(570.39,830.73) scale(1.0715,1)" font-size="23.43" fill="#333333" stroke="#333333" stroke-width="0.35">0</text>
<path d="M612.43,813.95 H618.33 V830.30 H616.08 V816.25 H612.43 Z" fill="#333333"/><text transform="translate(619.03,830.73) scale(0.9991,1)" font-size="23.43" fill="#333333" stroke="#333333" stroke-width="0.35">2</text>
<text transform="translate(608.45,863.03) scale(1.0737,1)" font-size="23.38" fill="#333333" stroke="#333333" stroke-width="0.35">0</text><text transform="translate(622.72,863.03) scale(0.9874,1)" font-size="23.38" fill="#333333" stroke="#333333" stroke-width="0.35">8</text>
<text transform="translate(662.41,830.73) scale(1.0715,1)" font-size="23.43" fill="#333333" stroke="#333333" stroke-width="0.35">0</text><text transform="translate(677.61,830.73) scale(1.0715,1)" font-size="23.43" fill="#333333" stroke="#333333" stroke-width="0.35">0</text>
<path d="M719.65,813.95 H725.55 V830.30 H723.30 V816.25 H719.65 Z" fill="#333333"/><text transform="translate(726.25,830.73) scale(0.9991,1)" font-size="23.43" fill="#333333" stroke="#333333" stroke-width="0.35">2</text>
<text transform="translate(715.67,863.03) scale(1.0737,1)" font-size="23.38" fill="#333333" stroke="#333333" stroke-width="0.35">0</text><text transform="translate(729.92,863.03) scale(0.9980,1)" font-size="23.38" fill="#333333" stroke="#333333" stroke-width="0.35">9</text>
<text transform="translate(769.63,830.73) scale(1.0715,1)" font-size="23.43" fill="#333333" stroke="#333333" stroke-width="0.35">0</text><text transform="translate(784.83,830.73) scale(1.0715,1)" font-size="23.43" fill="#333333" stroke="#333333" stroke-width="0.35">0</text>
<path d="M826.87,813.95 H832.77 V830.30 H830.52 V816.25 H826.87 Z" fill="#333333"/><text transform="translate(833.47,830.73) scale(0.9991,1)" font-size="23.43" fill="#333333" stroke="#333333" stroke-width="0.35">2</text>
<path d="M826.32,846.05 H832.22 V862.60 H829.97 V848.35 H826.32 Z" fill="#333333"/><text transform="translate(833.39,863.03) scale(1.0737,1)" font-size="23.38" fill="#333333" stroke="#333333" stroke-width="0.35">0</text>
<text transform="translate(876.85,830.73) scale(1.0715,1)" font-size="23.43" fill="#333333" stroke="#333333" stroke-width="0.35">0</text><text transform="translate(892.05,830.73) scale(1.0715,1)" font-size="23.43" fill="#333333" stroke="#333333" stroke-width="0.35">0</text>
<path d="M934.09,813.95 H939.99 V830.30 H937.74 V816.25 H934.09 Z" fill="#333333"/><text transform="translate(940.69,830.73) scale(0.9991,1)" font-size="23.43" fill="#333333" stroke="#333333" stroke-width="0.35">2</text>
<path d="M937.04,846.05 H942.94 V862.60 H940.69 V848.35 H937.04 Z" fill="#333333"/><path d="M944.44,846.05 H950.34 V862.60 H948.09 V848.35 H944.44 Z" fill="#333333"/>
<text transform="translate(984.07,830.73) scale(1.0715,1)" font-size="23.43" fill="#333333" stroke="#333333" stroke-width="0.35">0</text><text transform="translate(999.27,830.73) scale(1.0715,1)" font-size="23.43" fill="#333333" stroke="#333333" stroke-width="0.35">0</text>
<path d="M1041.31,813.95 H1047.21 V830.30 H1044.96 V816.25 H1041.31 Z" fill="#333333"/><text transform="translate(1047.91,830.73) scale(0.9991,1)" font-size="23.43" fill="#333333" stroke="#333333" stroke-width="0.35">2</text>
<path d="M1041.61,846.05 H1047.51 V862.60 H1045.26 V848.35 H1041.61 Z" fill="#333333"/><text transform="translate(1048.21,863.03) scale(1.0011,1)" font-size="23.38" fill="#333333" stroke="#333333" stroke-width="0.35">2</text>
<text transform="translate(1091.29,830.73) scale(1.0715,1)" font-size="23.43" fill="#333333" stroke="#333333" stroke-width="0.35">0</text><text transform="translate(1106.49,830.73) scale(1.0715,1)" font-size="23.43" fill="#333333" stroke="#333333" stroke-width="0.35">0</text>
<path d="M1148.53,813.95 H1154.43 V830.30 H1152.18 V816.25 H1148.53 Z" fill="#333333"/><text transform="translate(1155.13,830.73) scale(0.9991,1)" font-size="23.43" fill="#333333" stroke="#333333" stroke-width="0.35">2</text>
<path d="M1148.88,846.05 H1154.78 V862.60 H1152.53 V848.35 H1148.88 Z" fill="#333333"/><text transform="translate(1156.09,863.03) scale(0.9230,1)" font-size="23.38" fill="#333333" stroke="#333333" stroke-width="0.35">3</text>
<text transform="translate(1198.51,830.73) scale(1.0715,1)" font-size="23.43" fill="#333333" stroke="#333333" stroke-width="0.35">0</text><text transform="translate(1213.71,830.73) scale(1.0715,1)" font-size="23.43" fill="#333333" stroke="#333333" stroke-width="0.35">0</text>
<path d="M1255.75,813.95 H1261.65 V830.30 H1259.40 V816.25 H1255.75 Z" fill="#333333"/><text transform="translate(1262.35,830.73) scale(0.9991,1)" font-size="23.43" fill="#333333" stroke="#333333" stroke-width="0.35">2</text>
<path d="M1255.60,846.05 H1261.50 V862.60 H1259.25 V848.35 H1255.60 Z" fill="#333333"/><text transform="translate(1263.02,863.03) scale(0.9698,1)" font-size="23.38" fill="#333333" stroke="#333333" stroke-width="0.35">4</text>
<text transform="translate(1305.73,830.73) scale(1.0715,1)" font-size="23.43" fill="#333333" stroke="#333333" stroke-width="0.35">0</text><text transform="translate(1320.93,830.73) scale(1.0715,1)" font-size="23.43" fill="#333333" stroke="#333333" stroke-width="0.35">0</text>
<path d="M1362.97,813.95 H1368.87 V830.30 H1366.62 V816.25 H1362.97 Z" fill="#333333"/><text transform="translate(1369.57,830.73) scale(0.9991,1)" font-size="23.43" fill="#333333" stroke="#333333" stroke-width="0.35">2</text>
<path d="M1363.32,846.05 H1369.22 V862.60 H1366.97 V848.35 H1363.32 Z" fill="#333333"/><text transform="translate(1370.21,863.03) scale(0.9500,1)" font-size="23.38" fill="#333333" stroke="#333333" stroke-width="0.35">5</text>
<text transform="translate(1412.95,830.73) scale(1.0715,1)" font-size="23.43" fill="#333333" stroke="#333333" stroke-width="0.35">0</text><text transform="translate(1428.15,830.73) scale(1.0715,1)" font-size="23.43" fill="#333333" stroke="#333333" stroke-width="0.35">0</text>
<path d="M1470.19,813.95 H1476.09 V830.30 H1473.84 V816.25 H1470.19 Z" fill="#333333"/><text transform="translate(1476.79,830.73) scale(0.9991,1)" font-size="23.43" fill="#333333" stroke="#333333" stroke-width="0.35">2</text>
<path d="M1470.04,846.05 H1475.94 V862.60 H1473.69 V848.35 H1470.04 Z" fill="#333333"/><text transform="translate(1477.35,863.03) scale(0.9980,1)" font-size="23.38" fill="#333333" stroke="#333333" stroke-width="0.35">6</text>
<text transform="translate(1520.17,830.73) scale(1.0715,1)" font-size="23.43" fill="#333333" stroke="#333333" stroke-width="0.35">0</text><text transform="translate(1535.37,830.73) scale(1.0715,1)" font-size="23.43" fill="#333333" stroke="#333333" stroke-width="0.35">0</text>
<path d="M1577.41,813.95 H1583.31 V830.30 H1581.06 V816.25 H1577.41 Z" fill="#333333"/><text transform="translate(1584.01,830.73) scale(0.9991,1)" font-size="23.43" fill="#333333" stroke="#333333" stroke-width="0.35">2</text>
<path d="M1577.61,846.05 H1583.51 V862.60 H1581.26 V848.35 H1577.61 Z" fill="#333333"/><text transform="translate(1585.08,863.03) scale(0.9447,1)" font-size="23.38" fill="#333333" stroke="#333333" stroke-width="0.35">7</text>
<text transform="translate(1627.39,830.73) scale(1.0715,1)" font-size="23.43" fill="#333333" stroke="#333333" stroke-width="0.35">0</text><text transform="translate(1642.59,830.73) scale(1.0715,1)" font-size="23.43" fill="#333333" stroke="#333333" stroke-width="0.35">0</text>
<path d="M1684.63,813.95 H1690.53 V830.30 H1688.28 V816.25 H1684.63 Z" fill="#333333"/><text transform="translate(1691.23,830.73) scale(0.9991,1)" font-size="23.43" fill="#333333" stroke="#333333" stroke-width="0.35">2</text>
<path d="M1684.83,846.05 H1690.73 V862.60 H1688.48 V848.35 H1684.83 Z" fill="#333333"/><text transform="translate(1691.57,863.03) scale(0.9874,1)" font-size="23.38" fill="#333333" stroke="#333333" stroke-width="0.35">8</text>
<text transform="translate(1734.61,830.73) scale(1.0715,1)" font-size="23.43" fill="#333333" stroke="#333333" stroke-width="0.35">0</text><text transform="translate(1749.81,830.73) scale(1.0715,1)" font-size="23.43" fill="#333333" stroke="#333333" stroke-width="0.35">0</text>
<path d="M1791.85,813.95 H1797.75 V830.30 H1795.50 V816.25 H1791.85 Z" fill="#333333"/><text transform="translate(1798.45,830.73) scale(0.9991,1)" font-size="23.43" fill="#333333" stroke="#333333" stroke-width="0.35">2</text>
<path d="M1792.30,846.05 H1798.20 V862.60 H1795.95 V848.35 H1792.30 Z" fill="#333333"/><text transform="translate(1798.52,863.03) scale(0.9980,1)" font-size="23.38" fill="#333333" stroke="#333333" stroke-width="0.35">9</text>
<text transform="translate(1841.83,830.73) scale(1.0715,1)" font-size="23.43" fill="#333333" stroke="#333333" stroke-width="0.35">0</text><text transform="translate(1857.03,830.73) scale(1.0715,1)" font-size="23.43" fill="#333333" stroke="#333333" stroke-width="0.35">0</text>
<text transform="translate(1496.15,894.53) scale(0.9670,1)" font-size="23.62" fill="#333333" stroke="#333333" stroke-width="0.35">February</text>
<line x1="247" y1="191" x2="247" y2="789" stroke="#7f7f7f" stroke-width="2"/>
<path d="M328.90,218.18C329.78,218.18 330.66,218.18 331.54,218.18C333.03,218.18 334.52,218.18 336.01,218.18C337.50,218.18 338.99,218.18 340.48,218.18C341.97,218.18 343.46,218.18 344.94,218.18C346.43,218.18 347.92,218.18 349.41,218.18C350.90,218.18 352.39,218.18 353.88,218.18C355.37,218.18 356.86,218.18 358.35,218.18C359.84,218.18 361.33,218.18 362.81,218.18C364.30,218.18 365.79,218.18 367.28,218.18C368.77,218.18 370.26,218.18 371.75,218.18C373.24,218.18 374.73,218.72 376.22,219.81C377.71,220.90 379.20,223.62 380.69,225.25C382.17,226.88 383.66,227.51 385.15,229.60C386.64,231.68 388.13,234.85 389.62,237.75C391.11,240.65 392.60,244.18 394.09,246.99C395.58,249.80 397.07,252.52 398.56,254.60C400.04,256.69 401.53,257.68 403.02,259.49C404.51,261.31 406.00,263.48 407.49,265.47C408.98,267.47 410.47,271.45 411.96,271.45C413.45,271.45 414.94,270.55 416.43,268.73C417.91,266.92 419.40,254.15 420.89,246.45C422.38,238.75 423.87,225.43 425.36,222.53C426.85,219.63 428.34,218.18 429.83,218.18C431.32,218.18 432.81,218.18 434.30,218.18C435.78,218.18 437.27,218.18 438.76,218.18C440.25,218.18 441.74,218.18 443.23,218.18C444.72,218.18 446.21,218.18 447.70,218.18C449.19,218.18 450.68,218.18 452.17,218.18C453.65,218.18 455.14,218.18 456.63,218.18C458.12,218.18 459.61,218.18 461.10,218.18C462.59,218.18 464.08,218.18 465.57,218.18C467.06,218.18 468.55,218.18 470.03,218.18C471.52,218.18 473.01,218.18 474.50,218.18C475.99,218.18 477.48,218.18 478.97,218.18C480.46,218.18 481.95,218.18 483.44,218.18C484.93,218.18 486.42,222.08 487.90,223.62C489.39,225.16 490.88,226.15 492.37,227.42C493.86,228.69 495.35,229.78 496.84,231.23C498.33,232.68 499.82,234.76 501.31,236.12C502.80,237.48 504.29,238.29 505.77,239.38C507.26,240.47 508.75,242.64 510.24,242.64C511.73,242.64 513.22,242.64 514.71,242.64C516.20,242.64 517.69,244.82 519.18,244.82C520.67,244.82 522.16,241.19 523.64,237.21C525.13,233.22 526.62,222.71 528.11,220.90C529.60,219.09 531.09,218.18 532.58,218.18C534.07,218.18 535.56,218.18 537.05,218.18C538.54,218.18 540.03,218.18 541.51,218.18C543.00,218.18 544.49,218.18 545.98,218.18C547.47,218.18 548.96,218.18 550.45,218.18C551.94,218.18 553.43,218.18 554.92,218.18C556.41,218.18 557.90,218.18 559.38,218.18C560.87,218.18 562.36,218.18 563.85,218.18C565.34,218.18 566.83,218.18 568.32,218.18C569.81,218.18 571.30,218.18 572.79,218.18C574.28,218.18 575.77,218.18 577.25,218.18C578.74,218.18 580.23,218.18 581.72,218.18C583.21,218.18 584.70,218.18 586.19,218.18C587.68,218.18 589.17,218.18 590.66,218.18C592.15,218.18 593.64,218.18 595.12,218.18C596.61,218.18 598.10,218.18 599.59,218.18C601.08,218.18 602.57,218.18 604.06,218.18C605.55,218.18 607.04,218.18 608.53,218.18C610.02,218.18 611.51,218.18 613.00,218.18C614.48,218.18 615.97,218.18 617.46,218.18C618.95,218.18 620.44,218.18 621.93,218.18C623.42,218.18 624.91,218.18 626.40,218.18C627.89,218.18 629.38,218.18 630.87,218.18C632.35,218.18 633.84,218.18 635.33,218.18C636.82,218.18 638.31,218.18 639.80,218.18C641.29,218.18 642.78,218.18 644.27,218.18C645.76,218.18 647.25,218.18 648.74,218.18C650.22,218.18 651.71,218.18 653.20,218.18C654.69,218.18 656.18,218.18 657.67,218.18C659.16,218.18 660.65,218.18 662.14,218.18C663.63,218.18 665.12,218.18 666.61,218.18C668.09,218.18 669.58,218.18 671.07,218.18C672.56,218.18 674.05,218.18 675.54,218.18C677.03,218.18 678.52,218.18 680.01,218.18C681.50,218.18 682.99,218.18 684.48,218.18C685.96,218.18 687.45,218.18 688.94,218.18C690.43,218.18 691.92,218.18 693.41,218.18C694.90,218.18 696.39,218.18 697.88,218.18C699.37,218.18 700.86,218.18 702.35,218.18C703.83,218.18 705.32,218.18 706.81,218.18C708.30,218.18 709.79,218.18 711.28,218.18C712.77,218.18 714.26,218.18 715.75,218.18C717.24,218.18 718.73,218.18 720.22,218.18C721.70,218.18 723.19,218.18 724.68,218.18C726.17,218.18 727.66,218.18 729.15,218.18C730.64,218.18 732.13,218.18 733.62,218.18C735.11,218.18 736.60,218.18 738.09,218.18C739.57,218.18 741.06,218.18 742.55,218.18C744.04,218.18 745.53,218.18 747.02,218.18C748.51,218.18 750.00,218.18 751.49,218.18C752.98,218.18 754.47,218.18 755.96,218.18C757.44,218.18 758.93,218.18 760.42,218.18C761.91,218.18 763.40,218.18 764.89,218.18C766.38,218.18 767.87,218.18 769.36,218.18C770.85,218.18 772.34,218.18 773.83,218.18C775.31,218.18 776.80,218.18 778.29,218.18C779.78,218.18 781.27,218.18 782.76,218.18C784.25,218.18 785.74,218.18 787.23,218.18C788.72,218.18 790.21,218.18 791.70,218.18C793.18,218.18 794.67,218.18 796.16,218.18C797.65,218.18 799.14,218.18 800.63,218.18C802.12,218.18 803.61,616.91 805.10,616.91C806.59,616.91 808.08,218.18 809.57,218.18C811.05,218.18 812.54,218.18 814.03,218.18C815.52,218.18 817.01,218.18 818.50,218.18C819.99,218.18 821.48,218.18 822.97,218.18C824.46,218.18 825.95,218.18 827.43,218.18C828.92,218.18 830.41,218.18 831.90,218.18C833.39,218.18 834.88,218.18 836.37,218.18C837.86,218.18 839.35,218.18 840.84,218.18C842.33,218.18 843.82,218.18 845.30,218.18C846.79,218.18 848.28,218.18 849.77,218.18C851.26,218.18 852.75,218.18 854.24,218.18C855.73,218.18 857.22,218.18 858.71,218.18C860.20,218.18 861.69,218.18 863.17,218.18C864.66,218.18 866.15,218.18 867.64,218.18C869.13,218.18 870.62,218.18 872.11,218.18C873.60,218.18 875.09,218.18 876.58,218.18C878.07,218.18 879.56,218.18 881.04,218.18C882.53,218.18 884.02,218.18 885.51,218.18C887.00,218.18 888.49,218.18 889.98,218.18C891.47,218.18 892.96,218.18 894.45,218.18C895.94,218.18 897.43,218.18 898.91,218.18C900.40,218.18 901.89,218.18 903.38,218.18C904.87,218.18 906.36,218.18 907.85,218.18C909.34,218.18 910.83,218.18 912.32,218.18C913.81,218.18 915.30,218.18 916.78,218.18C918.27,218.18 919.76,218.18 921.25,218.18C922.74,218.18 924.23,218.18 925.72,218.18C927.21,218.18 928.70,218.18 930.19,218.18C931.68,218.18 933.17,218.18 934.65,218.18C936.14,218.18 937.63,218.18 939.12,218.18C940.61,218.18 942.10,218.18 943.59,218.18C945.08,218.18 946.57,218.18 948.06,218.18C949.55,218.18 951.04,218.18 952.52,218.18C954.01,218.18 955.50,218.18 956.99,218.18C958.48,218.18 959.97,218.18 961.46,218.18C962.95,218.18 964.44,218.18 965.93,218.18C967.42,218.18 968.91,218.18 970.39,218.18C971.88,218.18 973.37,218.18 974.86,218.18C976.35,218.18 977.84,218.18 979.33,218.18C980.82,218.18 982.31,218.18 983.80,218.18C985.29,218.18 986.78,218.18 988.26,218.18C989.75,218.18 991.24,218.18 992.73,218.18C994.22,218.18 995.71,218.18 997.20,218.18C998.69,218.18 1000.18,218.18 1001.67,218.18C1003.16,218.18 1004.65,218.18 1006.13,218.18C1007.62,218.18 1009.11,218.18 1010.60,218.18C1012.09,218.18 1013.58,218.18 1015.07,218.18C1016.56,218.18 1018.05,218.18 1019.54,218.18C1021.03,218.18 1022.52,218.18 1024.01,218.18C1025.49,218.18 1026.98,218.18 1028.47,218.18C1029.96,218.18 1031.45,218.18 1032.94,218.18C1034.43,218.18 1035.92,218.18 1037.41,218.18C1038.90,218.18 1040.39,218.18 1041.88,218.18C1043.36,218.18 1044.85,218.18 1046.34,218.18C1047.83,218.18 1049.32,218.18 1050.81,218.18C1052.30,218.18 1053.79,218.18 1055.28,218.18C1056.77,218.18 1058.26,218.18 1059.75,218.18C1061.23,218.18 1062.72,218.18 1064.21,218.18C1065.70,218.18 1067.19,218.18 1068.68,218.18C1070.17,218.18 1071.66,218.18 1073.15,218.18C1074.64,218.18 1076.13,218.18 1077.62,218.18C1079.10,218.18 1080.59,218.18 1082.08,218.18C1083.57,218.18 1085.06,218.18 1086.55,218.18C1088.04,218.18 1089.53,218.18 1091.02,218.18C1092.51,218.18 1094.00,218.18 1095.49,218.18C1096.97,218.18 1098.46,218.18 1099.95,218.18C1101.44,218.18 1102.93,218.18 1104.42,218.18C1105.91,218.18 1107.40,218.18 1108.89,218.18C1110.38,218.18 1111.87,218.18 1113.36,218.18C1114.84,218.18 1116.33,218.18 1117.82,218.18C1119.31,218.18 1120.80,218.18 1122.29,218.18C1123.78,218.18 1125.27,218.18 1126.76,218.18C1128.25,218.18 1129.74,218.18 1131.23,218.18C1132.71,218.18 1134.20,218.18 1135.69,218.18C1137.18,218.18 1138.67,218.18 1140.16,218.18C1141.65,218.18 1143.14,218.18 1144.63,218.18C1146.12,218.18 1147.61,218.18 1149.10,218.18C1150.58,218.18 1152.07,218.18 1153.56,218.18C1155.05,218.18 1156.54,218.18 1158.03,218.18C1159.52,218.18 1161.01,218.18 1162.50,218.18C1163.99,218.18 1165.48,218.18 1166.97,218.18C1168.45,218.18 1169.94,218.18 1171.43,218.18C1172.92,218.18 1174.41,218.18 1175.90,218.18C1177.39,218.18 1178.88,218.18 1180.37,218.18C1181.86,218.18 1183.35,218.18 1184.84,218.18C1186.32,218.18 1187.81,218.18 1189.30,218.18C1190.79,218.18 1192.28,218.18 1193.77,218.18C1195.26,218.18 1196.75,218.18 1198.24,218.18C1199.73,218.18 1201.22,218.18 1202.71,218.18C1204.19,218.18 1205.68,218.18 1207.17,218.18C1208.66,218.18 1210.15,218.18 1211.64,218.18C1213.13,218.18 1214.62,218.18 1216.11,218.18C1217.60,218.18 1219.09,218.18 1220.58,218.18C1222.06,218.18 1223.55,218.18 1225.04,218.18C1226.53,218.18 1228.02,218.18 1229.51,218.18C1231.00,218.18 1232.49,218.18 1233.98,218.18C1235.47,218.18 1236.96,218.18 1238.45,218.18C1239.93,218.18 1241.42,218.18 1242.91,218.18C1244.40,218.18 1245.89,218.18 1247.38,218.18C1248.87,218.18 1250.36,218.18 1251.85,218.18C1253.34,218.18 1254.83,218.18 1256.32,218.18C1257.80,218.18 1259.29,218.81 1260.78,219.27C1262.27,219.72 1263.76,220.54 1265.25,220.90C1266.74,221.26 1268.23,221.44 1269.72,221.44C1271.21,221.44 1272.70,221.26 1274.19,220.90C1275.67,220.54 1277.16,219.72 1278.65,219.27C1280.14,218.81 1281.63,218.18 1283.12,218.18C1284.61,218.18 1286.10,218.18 1287.59,218.18C1289.08,218.18 1290.57,218.18 1292.06,218.18C1293.54,218.18 1295.03,218.18 1296.52,218.18C1298.01,218.18 1299.50,218.18 1300.99,218.18C1302.48,218.18 1303.97,218.18 1305.46,218.18C1306.95,218.18 1308.44,218.18 1309.93,218.18C1311.41,218.18 1312.90,218.18 1314.39,218.18C1315.88,218.18 1317.37,218.18 1318.86,218.18C1320.35,218.18 1321.84,218.18 1323.33,218.18C1324.82,218.18 1326.31,220.05 1327.80,221.71C1329.28,223.38 1330.77,225.78 1332.26,228.18C1333.75,230.58 1335.24,233.07 1336.73,236.12C1338.22,239.16 1339.71,242.91 1341.20,246.45C1342.69,249.98 1344.18,253.60 1345.67,257.32C1347.15,261.03 1348.64,264.75 1350.13,268.73C1351.62,272.72 1353.11,277.16 1354.60,281.24C1356.09,285.31 1357.58,289.30 1359.07,293.20C1360.56,297.09 1362.05,300.90 1363.54,304.61C1365.02,308.33 1366.51,312.31 1368.00,315.48C1369.49,318.66 1370.98,321.74 1372.47,323.64C1373.96,325.54 1375.45,326.90 1376.94,326.90C1378.43,326.90 1379.92,326.08 1381.41,324.73C1382.89,323.37 1384.38,321.28 1385.87,318.75C1387.36,316.21 1388.85,313.76 1390.34,309.50C1391.83,305.25 1393.32,297.82 1394.81,293.20C1396.30,288.58 1397.79,285.41 1399.28,281.78C1400.76,278.16 1402.25,274.26 1403.74,271.45C1405.23,268.64 1406.72,266.83 1408.21,264.93C1409.70,263.03 1411.19,261.31 1412.68,260.04C1414.17,258.77 1415.66,257.32 1417.15,257.32C1418.63,257.32 1420.12,259.67 1421.61,262.21C1423.10,264.75 1424.59,268.73 1426.08,272.54C1427.57,276.35 1429.06,281.51 1430.55,285.04C1432.04,288.58 1433.53,291.11 1435.02,293.74C1436.50,296.37 1437.99,298.45 1439.48,300.81C1440.97,303.16 1442.46,305.43 1443.95,307.87C1445.44,310.32 1446.93,313.04 1448.42,315.48C1449.91,317.93 1451.40,320.29 1452.89,322.55C1454.37,324.82 1455.86,326.90 1457.35,329.07C1458.84,331.25 1460.33,333.51 1461.82,335.60C1463.31,337.68 1464.80,339.31 1466.29,341.58C1467.78,343.84 1469.27,346.11 1470.76,349.19C1472.24,352.27 1473.73,356.89 1475.22,360.06C1476.71,363.23 1478.20,366.13 1479.69,368.21C1481.18,370.30 1482.67,372.56 1484.16,372.56C1485.65,372.56 1487.14,367.85 1488.63,363.32C1490.11,358.79 1491.60,351.91 1493.09,345.38C1494.58,338.86 1496.07,331.52 1497.56,324.18C1499.05,316.84 1500.54,309.87 1502.03,301.35C1503.52,292.83 1505.01,281.42 1506.50,273.08C1507.98,264.75 1509.47,256.96 1510.96,251.34C1512.45,245.72 1513.94,242.55 1515.43,239.38C1516.92,236.21 1518.41,233.76 1519.90,232.31C1521.39,230.86 1522.88,230.14 1524.37,230.14C1525.85,230.14 1527.34,232.22 1528.83,233.94C1530.32,235.67 1531.81,238.38 1533.30,240.47C1534.79,242.55 1536.28,244.73 1537.77,246.45C1539.26,248.17 1540.75,249.53 1542.24,250.80C1543.72,252.06 1545.21,253.15 1546.70,254.06C1548.19,254.96 1549.68,255.87 1551.17,256.23C1552.66,256.59 1554.15,256.59 1555.64,256.78C1557.13,256.96 1558.62,257.05 1560.11,257.32C1561.59,257.59 1563.08,257.68 1564.57,258.41C1566.06,259.13 1567.55,261.76 1569.04,264.93C1570.53,268.10 1572.02,273.99 1573.51,277.43C1575.00,280.88 1576.49,284.14 1577.98,285.59C1579.46,287.04 1580.95,287.13 1582.44,287.76C1583.93,288.40 1585.42,289.39 1586.91,289.39C1588.40,289.39 1589.89,289.39 1591.38,289.39C1592.87,289.39 1594.36,283.50 1595.85,280.15C1597.33,276.80 1598.82,273.17 1600.31,269.28C1601.80,265.38 1603.29,261.31 1604.78,256.78C1606.27,252.25 1607.76,247.63 1609.25,242.10C1610.74,236.57 1612.23,227.24 1613.72,223.62C1615.20,219.99 1616.69,218.18 1618.18,218.18C1619.67,218.18 1621.16,218.18 1622.65,218.18C1624.14,218.18 1625.63,218.18 1627.12,218.18C1628.61,218.18 1630.10,218.18 1631.59,218.18C1633.07,218.18 1634.56,221.53 1636.05,225.25C1637.54,228.96 1639.03,234.94 1640.52,240.47C1642.01,245.99 1643.50,252.25 1644.99,258.41C1646.48,264.57 1647.97,270.28 1649.46,277.43C1650.94,284.59 1652.43,292.93 1653.92,301.35C1655.41,309.78 1656.90,318.38 1658.39,327.99C1659.88,337.59 1661.37,348.55 1662.86,358.97C1664.35,369.39 1665.84,380.44 1667.33,390.50C1668.81,400.56 1670.30,410.34 1671.79,419.31C1673.28,428.28 1674.77,436.98 1676.26,444.32C1677.75,451.66 1679.24,458.81 1680.73,463.34C1682.22,467.87 1683.71,471.50 1685.20,471.50C1686.68,471.50 1688.17,471.50 1689.66,471.50C1691.15,471.50 1692.64,471.50 1694.13,471.50C1695.62,471.50 1697.11,471.50 1698.60,471.50C1700.09,471.50 1701.58,471.50 1703.07,471.50C1704.55,471.50 1706.04,471.50 1707.53,471.50C1709.02,471.50 1710.51,471.50 1712.00,471.50C1713.49,471.50 1714.98,457.82 1716.47,448.12C1717.96,438.43 1719.45,423.39 1720.94,413.33C1722.42,403.28 1723.91,393.85 1725.40,387.78C1726.89,381.71 1728.38,379.54 1729.87,376.91C1731.36,374.28 1732.85,373.20 1734.34,372.02C1735.83,370.84 1737.32,369.84 1738.81,369.84C1740.29,369.84 1741.78,376.28 1743.27,383.98C1744.76,391.68 1746.25,407.17 1747.74,416.05C1749.23,424.93 1750.72,430.91 1752.21,437.25C1753.70,443.59 1755.19,449.39 1756.68,454.10C1758.16,458.81 1759.65,462.62 1761.14,465.52C1762.63,468.42 1764.12,471.50 1765.61,471.50C1767.10,471.50 1768.59,471.50 1770.08,471.50C1771.57,471.50 1773.06,471.50 1774.55,471.50C1776.03,471.50 1777.52,471.50 1779.01,471.50C1780.50,471.50 1781.99,471.50 1783.48,471.50C1784.97,471.50 1786.46,471.50 1787.95,471.50C1789.44,471.50 1790.93,471.50 1792.42,471.50C1793.90,471.50 1795.39,471.50 1796.88,471.50C1798.37,471.50 1799.86,471.50 1801.35,471.50C1802.84,471.50 1804.33,471.50 1805.82,471.50C1807.31,471.50 1808.80,471.50 1810.29,471.50C1811.77,471.50 1813.26,471.14 1814.75,470.95C1816.24,470.77 1817.73,470.77 1819.22,470.41C1820.71,470.05 1822.20,447.31 1823.69,435.62C1825.18,423.93 1826.67,411.07 1828.16,400.29C1829.64,389.50 1831.13,380.22 1832.62,370.93" fill="none" stroke="rgba(52,124,216,0.7)" stroke-width="3.2" stroke-linejoin="round"/>
<line x1="247" y1="272.75" x2="1855" y2="272.75" stroke="#248424" stroke-width="2.6" stroke-dasharray="6.2 4.998"/>
<line x1="247" y1="490.20" x2="1855" y2="490.20" stroke="#ee8b00" stroke-width="2.6" stroke-dasharray="6.2 4.998"/>
<line x1="247" y1="707.90" x2="1855" y2="707.90" stroke="#c40000" stroke-width="2.6" stroke-dasharray="6.2 4.998"/>
<line x1="330" y1="789.2" x2="330" y2="191" stroke="rgba(52,124,216,0.7)" stroke-width="2" stroke-dasharray="6.1 5.1"/>
<circle cx="1738.8" cy="370.0" r="5" fill="rgba(52,124,216,0.7)" stroke="#3d7ed9" stroke-width="3"/>
<line x1="1738.8" y1="191" x2="1738.8" y2="789" stroke="#cfcfcf" stroke-width="2"/>
<rect x="1521.9" y="407.4" width="201.0" height="114.3" rx="7" ry="7" fill="#ffffff"/>
<text transform="translate(1546.12,457.32) scale(0.9626,1)" font-size="22.61" fill="#10101e" stroke="#10101e" stroke-width="0.90">18 Feb 22:00</text>
<text transform="translate(1545.67,489.53) scale(1.0168,1)" font-size="22.17" fill="#10101e" stroke="#10101e" stroke-width="0.35">Marginal (0.72)</text>
</g>
</svg>
</body></html>
